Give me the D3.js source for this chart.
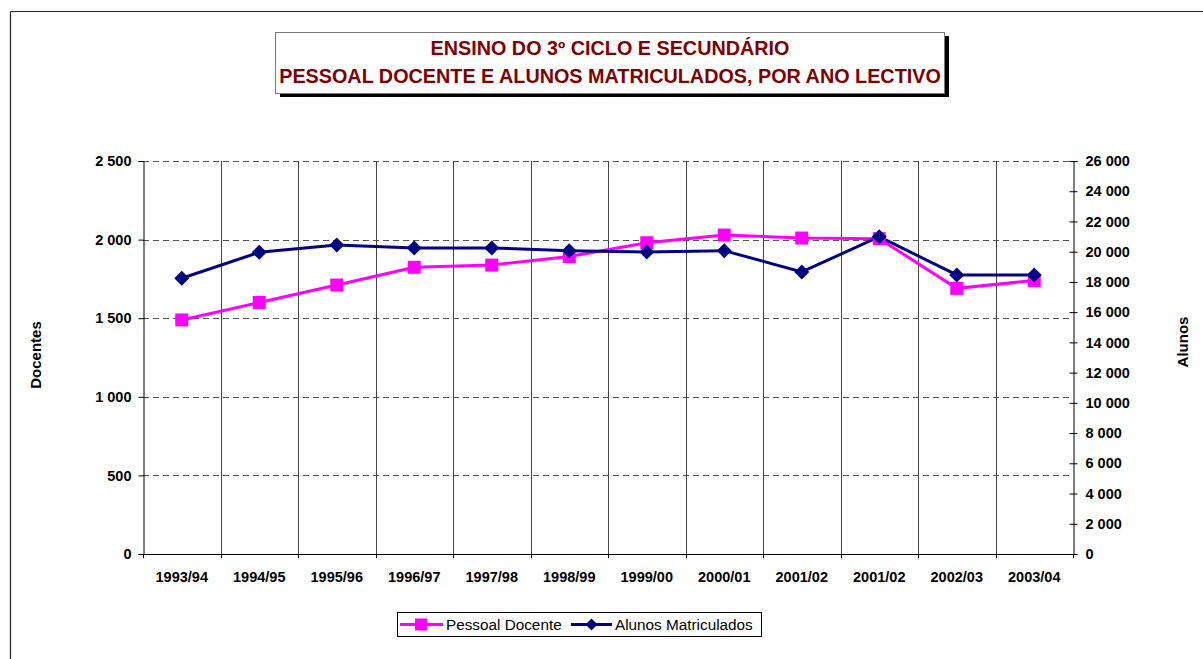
<!DOCTYPE html>
<html><head><meta charset="utf-8">
<script src="https://cdn.jsdelivr.net/npm/d3@7"></script>
<style>body{margin:0;background:#fff}svg{display:block;font-family:Arial,"Liberation Sans",sans-serif}</style>
</head><body>
<svg id="c" width="1203" height="659"></svg>
<script>
const categories = ["1993/94","1994/95","1995/96","1996/97","1997/98","1998/99","1999/00","2000/01","2001/02","2001/02","2002/03","2003/04"];
const docentes = [1489,1600,1711,1824,1838,1892,1980,2029,2010,2006,1690,1740];
const alunos = [18240,19960,20440,20240,20250,20070,19980,20070,18660,20990,18460,18460];
const leftTicks = [0,500,1000,1500,2000,2500];
const rightTicks = [0,2000,4000,6000,8000,10000,12000,14000,16000,18000,20000,22000,24000,26000];
const titleLines = ["ENSINO DO 3º CICLO E SECUNDÁRIO","PESSOAL DOCENTE E ALUNOS MATRICULADOS, POR ANO LECTIVO"];

const svg = d3.select("#c");
const fmt = v => d3.format(",")(v).replace(/,/g," ");
const L=143,R=1073,T=161,B=554;
const x = d3.scaleBand().domain(d3.range(categories.length)).range([L,R]);
const yL = d3.scaleLinear().domain([0,2500]).range([B,T]);
const yR = d3.scaleLinear().domain([0,26000]).range([B,T]);

// outer frame
svg.append("line").attr("x1",10.5).attr("x2",1203).attr("y1",11.5).attr("y2",11.5).attr("stroke","#222").attr("stroke-width",1.2);
svg.append("line").attr("x1",10.5).attr("x2",10.5).attr("y1",11.5).attr("y2",659).attr("stroke","#222").attr("stroke-width",1.2);

// title box
svg.append("rect").attr("x",280).attr("y",36).attr("width",669).attr("height",61).attr("fill","#000");
svg.append("rect").attr("x",275.5).attr("y",32.5).attr("width",669).attr("height",61).attr("fill","#fff").attr("stroke","#777");
svg.selectAll(".tt").data(titleLines).join("text").attr("x",610).attr("y",(d,i)=>55+i*28)
  .attr("text-anchor","middle").attr("font-size",19.8).attr("font-weight","bold").attr("fill","#800000").text(d=>d);

// horizontal dashed grid
svg.append("g").selectAll("line").data(leftTicks.filter(d=>d>0)).join("line")
  .attr("x1",L).attr("x2",R).attr("y1",d=>Math.round(yL(d))+0.5).attr("y2",d=>Math.round(yL(d))+0.5)
  .attr("stroke","#555").attr("stroke-dasharray","6,4");
// vertical grid lines
svg.append("g").selectAll("line").data(d3.range(1,categories.length)).join("line")
  .attr("x1",i=>Math.round(x(i))+0.5).attr("x2",i=>Math.round(x(i))+0.5).attr("y1",T).attr("y2",B)
  .attr("stroke","#444").attr("stroke-width",1);

// axes
const gl = svg.append("g").attr("transform",`translate(${L+0.5},0)`).call(d3.axisLeft(yL).tickValues(leftTicks).tickFormat(fmt).tickSize(5).tickPadding(7));
const gr = svg.append("g").attr("transform",`translate(${R+0.5},0)`).call(d3.axisRight(yR).tickValues(rightTicks).tickFormat(fmt).tickSize(4).tickPadding(8));
gr.selectAll(".tick line").attr("x1",-4);
const gx = svg.append("g").attr("transform",`translate(0,${B+0.5})`).call(d3.axisBottom(x).tickFormat(i=>categories[i]).tickSize(0).tickPadding(17));
gx.select(".domain").attr("d",`M${L},0H${R}`);
svg.append("g").selectAll("line").data(d3.range(0,categories.length+1)).join("line")
  .attr("x1",i=>Math.round(L+i*x.step())+0.5).attr("x2",i=>Math.round(L+i*x.step())+0.5).attr("y1",B).attr("y2",B+4).attr("stroke","#000");
[gl,gr,gx].forEach(g=>{g.selectAll("text").attr("font-size",14.5).attr("font-weight","bold").attr("fill","#000").attr("font-family","Arial, 'Liberation Sans', sans-serif");
  g.selectAll("line,path").attr("stroke","#000");});

// axis titles
svg.append("text").attr("transform","translate(41,355) rotate(-90)").attr("text-anchor","middle").attr("font-size",15).attr("font-weight","bold").text("Docentes");
svg.append("text").attr("transform","translate(1188,342) rotate(-90)").attr("text-anchor","middle").attr("font-size",15).attr("font-weight","bold").text("Alunos");

const cx = i => x(i)+x.bandwidth()/2;
const pink="#FF00FF", navy="#000080";
svg.append("path").datum(docentes).attr("fill","none").attr("stroke",pink).attr("stroke-width",3)
  .attr("d",d3.line().x((d,i)=>cx(i)).y(d=>yL(d)));
svg.append("path").datum(alunos).attr("fill","none").attr("stroke",navy).attr("stroke-width",3)
  .attr("d",d3.line().x((d,i)=>cx(i)).y(d=>yR(d)));
svg.append("g").selectAll("rect").data(docentes).join("rect")
  .attr("x",(d,i)=>cx(i)-6.5).attr("y",d=>yL(d)-6.5).attr("width",13).attr("height",13).attr("fill",pink);
const diamond = "M0,-7.5L7.5,0L0,7.5L-7.5,0Z";
svg.append("g").selectAll("path").data(alunos).join("path")
  .attr("transform",(d,i)=>`translate(${cx(i)},${yR(d)})`).attr("d",diamond).attr("fill",navy);

// legend
const lg = svg.append("g");
lg.append("rect").attr("x",397.5).attr("y",612.5).attr("width",364).attr("height",24).attr("fill","#fff").attr("stroke","#000");
lg.append("line").attr("x1",400).attr("x2",443).attr("y1",624.5).attr("y2",624.5).attr("stroke",pink).attr("stroke-width",3);
lg.append("rect").attr("x",415).attr("y",618.5).attr("width",12).attr("height",12).attr("fill",pink);
lg.append("text").attr("x",446).attr("y",630).attr("font-size",15.3).text("Pessoal Docente");
lg.append("line").attr("x1",571).attr("x2",612).attr("y1",624.5).attr("y2",624.5).attr("stroke",navy).attr("stroke-width",3);
lg.append("path").attr("transform","translate(591.5,624.5)").attr("d","M0,-6L6,0L0,6L-6,0Z").attr("fill",navy);
lg.append("text").attr("x",615).attr("y",630).attr("font-size",15.3).text("Alunos Matriculados");
</script>
</body></html>
